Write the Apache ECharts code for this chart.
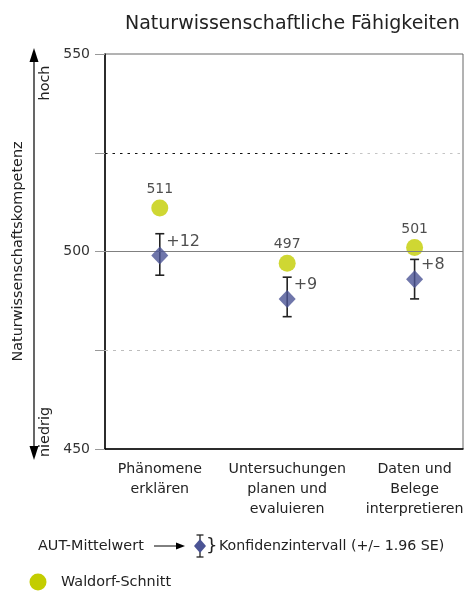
<!DOCTYPE html>
<html>
<head>
<meta charset="utf-8">
<script src="https://cdn.jsdelivr.net/npm/echarts@6/dist/echarts.min.js"></script>
<style>
  html, body { margin: 0; padding: 0; background: #fff; }
  #chart { width: 464px; height: 592px; }
</style>
</head>
<body>
<div id="chart"></div>
<script>
// Competence areas (x categories)
const categories = ['Phänomene\nerklären', 'Untersuchungen\nplanen und\nevaluieren', 'Daten und\nBelege\ninterpretieren'];
// Waldorf school averages
const waldorfMean = [511, 497, 501];
// Austrian (AUT) averages with 95% confidence interval bounds
const autMean = [499, 488, 493];
const ciLower = [494, 483.5, 488];
const ciUpper = [504.5, 493.5, 498];
// Labelled ticks on the score axis
const yLabelled = [450, 500, 550];

const FONT = '"DejaVu Sans", "Liberation Sans", Arial, sans-serif';
const GREEN = '#c3cd00';
const BLUE = '#4b5495';
const INK = '#222';
const LEG = '14.4px ' + FONT;

const chart = echarts.init(document.getElementById('chart'), null, { renderer: 'canvas' });

// dotted line that fades from dark to light grey part-way across
const upperDotted = new echarts.graphic.LinearGradient(0, 0, 1, 0, [
  { offset: 0, color: '#111' },
  { offset: 0.68, color: '#111' },
  { offset: 0.681, color: '#c4c4c4' },
  { offset: 1, color: '#c4c4c4' }
]);

const option = {
  animation: false,
  textStyle: { fontFamily: FONT },
  title: {
    text: 'Naturwissenschaftliche Fähigkeiten',
    left: 120, top: 10,
    textStyle: { fontFamily: FONT, fontSize: 19, fontWeight: 'normal', color: INK }
  },
  grid: {
    left: 105, right: 1, top: 54, bottom: 143,
    containLabel: false, outerBoundsMode: 'none',
    show: true, borderColor: '#666', borderWidth: 1
  },
  xAxis: {
    type: 'value',
    min: -0.43, max: 2.38,
    splitLine: { show: false },
    axisTick: { show: false },
    axisLine: { show: true, onZero: false, lineStyle: { color: '#000', width: 1.5 } },
    axisLabel: {
      fontFamily: FONT, fontSize: 14.2, color: INK, lineHeight: 20, margin: 10,
      showMinLabel: false, showMaxLabel: false,
      formatter: v => {
        const r = Math.round(v);
        return Math.abs(v - r) < 1e-6 && categories[r] !== undefined ? categories[r] : '';
      }
    }
  },
  yAxis: {
    type: 'value',
    min: 450, max: 550, interval: 25,
    name: 'Naturwissenschaftskompetenz',
    nameLocation: 'middle', nameRotate: 90, nameGap: 80,
    nameTextStyle: { fontFamily: FONT, fontSize: 14.4, color: INK },
    axisLine: { show: true, onZero: false, lineStyle: { color: '#000', width: 1.5 } },
    axisTick: { show: true, length: 10, lineStyle: { color: '#999' } },
    splitLine: { show: false },
    axisLabel: {
      fontFamily: FONT, fontSize: 14, color: '#333', margin: 15,
      formatter: v => (yLabelled.indexOf(v) >= 0 ? String(v) : '')
    }
  },
  series: [
    {
      // reference lines across the plot
      type: 'line', data: [], silent: true,
      markLine: {
        silent: true, symbol: 'none', label: { show: false },
        data: [
          { yAxis: 500, lineStyle: { color: '#808080', width: 1, type: 'solid' } },
          { yAxis: 525, lineStyle: { color: upperDotted, width: 1, type: [2.5, 5] } },
          { yAxis: 475, lineStyle: { color: '#bdbdbd', width: 1, type: [3, 5] } }
        ]
      }
    },
    {
      name: 'Waldorf-Schnitt',
      type: 'scatter',
      symbol: 'circle', symbolSize: 17,
      itemStyle: { color: GREEN },
      label: {
        show: true, position: 'top', distance: 3,
        fontFamily: FONT, fontSize: 14, color: INK,
        formatter: p => String(p.value[1])
      },
      data: waldorfMean.map((v, i) => [i, v]),
      z: 3
    },
    {
      name: 'Konfidenzintervall',
      type: 'custom',
      renderItem: (params, api) => {
        const x = api.value(0);
        const top = api.coord([x, api.value(2)]);
        const bot = api.coord([x, api.value(1)]);
        const half = 4.5;
        const style = { stroke: INK, lineWidth: 1.6 };
        return {
          type: 'group',
          children: [
            { type: 'line', shape: { x1: top[0], y1: top[1], x2: bot[0], y2: bot[1] }, style },
            { type: 'line', shape: { x1: top[0] - half, y1: top[1], x2: top[0] + half, y2: top[1] }, style },
            { type: 'line', shape: { x1: bot[0] - half, y1: bot[1], x2: bot[0] + half, y2: bot[1] }, style }
          ]
        };
      },
      data: autMean.map((v, i) => [i, ciLower[i], ciUpper[i]]),
      z: 4
    },
    {
      name: 'AUT-Mittelwert',
      type: 'scatter',
      symbol: 'diamond', symbolSize: [17, 18],
      itemStyle: { color: BLUE },
      label: {
        show: true, position: [15, -5], align: 'left', verticalAlign: 'middle',
        fontFamily: FONT, fontSize: 16, color: INK,
        formatter: p => '+' + (waldorfMean[p.dataIndex] - autMean[p.dataIndex])
      },
      data: autMean.map((v, i) => [i, v]),
      z: 5
    }
  ],
  graphic: [
    // "hoch / niedrig" arrow beside the score axis
    { type: 'line', shape: { x1: 34, y1: 58, x2: 34, y2: 450 }, style: { stroke: '#000', lineWidth: 1.2 } },
    { type: 'polygon', shape: { points: [[34, 48], [29.5, 62], [38.5, 62]] }, style: { fill: '#000' } },
    { type: 'polygon', shape: { points: [[34, 460], [29.5, 446], [38.5, 446]] }, style: { fill: '#000' } },
    { type: 'text', x: 45, y: 83, rotation: Math.PI / 2,
      style: { text: 'hoch', font: LEG, fill: INK, align: 'center', verticalAlign: 'middle' } },
    { type: 'text', x: 45, y: 432, rotation: Math.PI / 2,
      style: { text: 'niedrig', font: LEG, fill: INK, align: 'center', verticalAlign: 'middle' } },

    // legend: AUT mean with confidence interval
    { type: 'text', x: 38, y: 546,
      style: { text: 'AUT-Mittelwert', font: LEG, fill: INK, verticalAlign: 'middle' } },
    { type: 'line', shape: { x1: 154, y1: 546, x2: 178, y2: 546 }, style: { stroke: '#000', lineWidth: 1 } },
    { type: 'polygon', shape: { points: [[176, 542.5], [185, 546], [176, 549.5]] }, style: { fill: '#000' } },
    { type: 'line', shape: { x1: 200, y1: 535, x2: 200, y2: 557 }, style: { stroke: INK, lineWidth: 1.3 } },
    { type: 'line', shape: { x1: 196.5, y1: 535, x2: 203.5, y2: 535 }, style: { stroke: INK, lineWidth: 1.3 } },
    { type: 'line', shape: { x1: 196.5, y1: 557, x2: 203.5, y2: 557 }, style: { stroke: INK, lineWidth: 1.3 } },
    { type: 'polygon', shape: { points: [[200, 539], [206, 546], [200, 553], [194, 546]] }, style: { fill: BLUE } },
    { type: 'text', x: 206, y: 546,
      style: { text: '}', font: '18px ' + FONT, fill: INK, verticalAlign: 'middle' } },
    { type: 'text', x: 219, y: 546,
      style: { text: 'Konfidenzintervall (+/– 1.96 SE)', font: '14.2px ' + FONT, fill: INK, verticalAlign: 'middle' } },

    // legend: Waldorf average
    { type: 'circle', shape: { cx: 38, cy: 582, r: 8.5 }, style: { fill: GREEN } },
    { type: 'text', x: 61, y: 582,
      style: { text: 'Waldorf-Schnitt', font: LEG, fill: INK, verticalAlign: 'middle' } }
  ]
};

chart.setOption(option);
</script>
</body>
</html>
